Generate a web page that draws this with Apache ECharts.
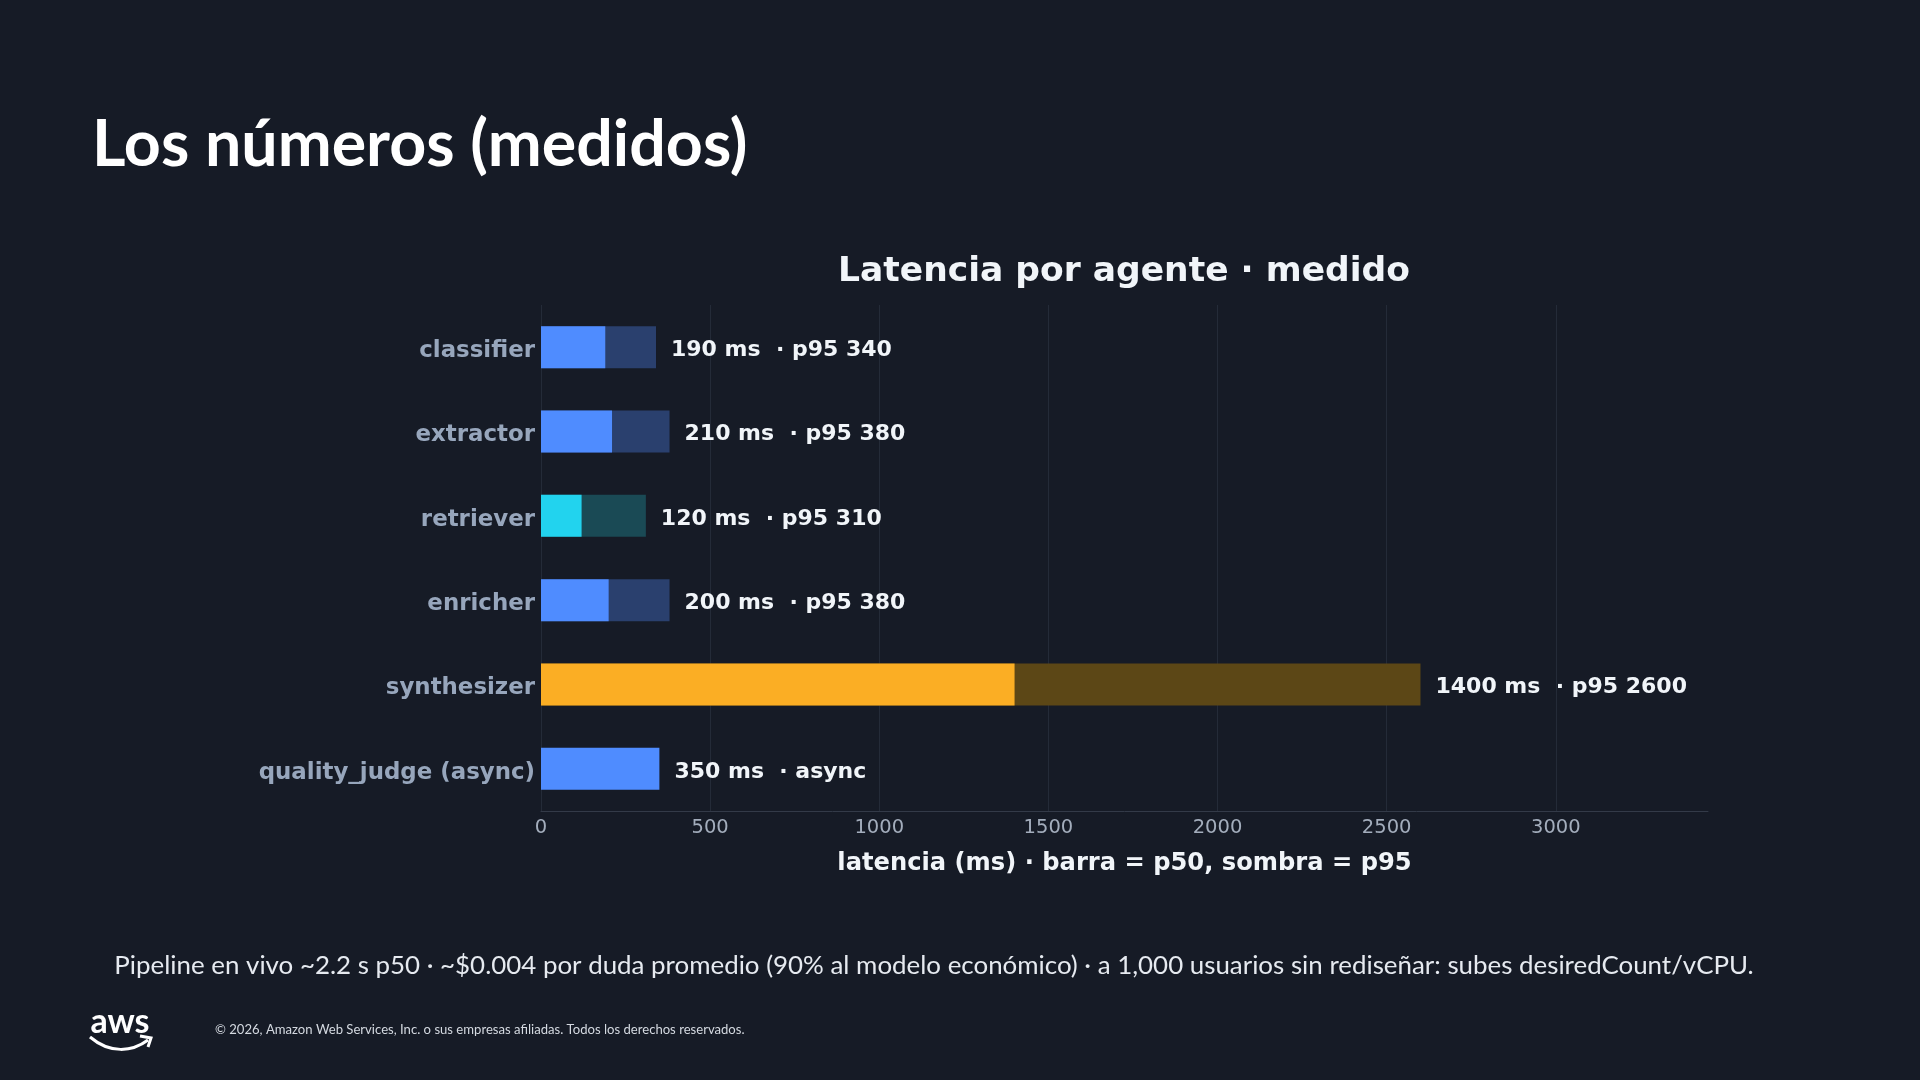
<!DOCTYPE html>
<html>
<head>
<meta charset="utf-8">
<script src="https://cdn.jsdelivr.net/npm/echarts@6/dist/echarts.min.js"></script>
<style>
html,body{margin:0;padding:0;background:#161b26;}
#c{width:1920px;height:1080px;}
</style>
</head>
<body>
<div id="c"></div>
<script>
const categories = ['classifier','extractor','retriever','enricher','synthesizer','quality_judge (async)'];
const p50 = [190, 210, 120, 200, 1400, 350];
const p95 = [340, 380, 310, 380, 2600, null];
const notes = ['p95 340','p95 380','p95 310','p95 380','p95 2600','async'];
const xTicks = { min: 0, max: 3450, interval: 500 };

const mainColors = ['#4f8cff','#4f8cff','#22d3ee','#4f8cff','#fbae24','#4f8cff'];
const shadowColors = ['#2a406e','#2a406e','#1a4a55','#2a406e','#5c4716','#2a406e'];

const chartFont = 'DejaVu Sans';
const slideFont = 'Lato';

function fitSize(text, weight, family, target){
  const cv = document.createElement('canvas').getContext('2d');
  cv.font = weight + ' 100px "' + family + '"';
  return 100 * target / cv.measureText(text).width;
}

const titleText = 'Los números (medidos)';
const footText = 'Pipeline en vivo ~2.2 s p50 · ~$0.004 por duda promedio (90% al modelo económico) · a 1,000 usuarios sin rediseñar: subes desiredCount/vCPU.';
const copyText = '© 2026, Amazon Web Services, Inc. o sus empresas afiliadas. Todos los derechos reservados.';

const labelStyle = {
  show: true, position: 'right', distance: 15, offset: [0, 3],
  color: '#f1f5f9', fontFamily: chartFont, fontWeight: 'bold', fontSize: 22
};

const shadowData = p95.map((v, i) => v == null ? null : ({
  value: v,
  itemStyle: { color: shadowColors[i] },
  label: Object.assign({}, labelStyle, { formatter: p50[i] + ' ms  · ' + notes[i] })
}));
const mainData = p50.map((v, i) => ({
  value: v,
  itemStyle: { color: mainColors[i] },
  label: p95[i] == null ? Object.assign({}, labelStyle, { formatter: v + ' ms  · ' + notes[i] }) : { show: false }
}));

const chart = echarts.init(document.getElementById('c'), null, { renderer: 'canvas' });
chart.setOption({
  backgroundColor: '#161b26',
  animation: false,
  grid: { left: 541, right: 212, top: 305, bottom: 269, containLabel: false },
  xAxis: {
    type: 'value', min: xTicks.min, max: xTicks.max, interval: xTicks.interval,
    name: 'latencia (ms) · barra = p50, sombra = p95',
    nameLocation: 'middle', nameGap: 41,
    nameTextStyle: { color: '#f1f5f9', fontFamily: chartFont, fontWeight: 'bold', fontSize: 24.2 },
    axisLine: { show: true, lineStyle: { color: '#333a48', width: 1 } },
    axisTick: { show: false },
    axisLabel: { color: '#a3adbc', fontFamily: chartFont, fontSize: 19.5, margin: 7, showMaxLabel: false,
      formatter: v => String(v) },
    splitLine: { show: true, showMaxLine: false, lineStyle: { color: '#242b38', width: 1 } }
  },
  yAxis: {
    type: 'category', data: categories, inverse: true,
    axisLine: { show: false }, axisTick: { show: false },
    axisLabel: { margin: 6, formatter: v => '{a|' + v + '}',
      rich: { a: { color: '#97a6bc', fontFamily: chartFont, fontWeight: 'bold', fontSize: 22.9,
        padding: [8, 0, 0, 0] } } }
  },
  series: [
    { name: 'p95', type: 'bar', data: shadowData, barWidth: 42, barGap: '-100%', z: 1 },
    { name: 'p50', type: 'bar', data: mainData, barWidth: 42, barGap: '-100%', z: 2 }
  ],
  graphic: [
    { type: 'text', x: 92, y: 145, style: { text: titleText, fill: '#ffffff',
      font: 'bold ' + fitSize(titleText, 'bold', slideFont, 656).toFixed(1) + 'px "' + slideFont + '"',
      align: 'left', verticalAlign: 'middle' } },
    { type: 'text', x: 1124, y: 272, style: { text: 'Latencia por agente · medido', fill: '#f1f5f9',
      font: 'bold 34.5px "' + chartFont + '"', align: 'center', verticalAlign: 'middle' } },
    { type: 'text', x: 934, y: 966, style: { text: footText, fill: '#e6eaf0',
      font: fitSize(footText, 'normal', slideFont, 1638).toFixed(1) + 'px "' + slideFont + '"', align: 'center', verticalAlign: 'middle' } },
    { type: 'text', x: 215, y: 1030, style: { text: copyText, fill: '#d4d9e0',
      font: fitSize(copyText, 'normal', slideFont, 528).toFixed(1) + 'px "' + slideFont + '"', align: 'left', verticalAlign: 'middle' } },
    { type: 'text', x: 120, y: 1022, style: { text: 'aws', fill: '#ffffff',
      font: 'bold 34px "' + slideFont + '"', align: 'center', verticalAlign: 'middle' } },
    { type: 'bezierCurve', shape: { x1: 90, y1: 1037, x2: 148, y2: 1040, cpx1: 110, cpy1: 1054, cpx2: 132, cpy2: 1052 },
      style: { fill: null, stroke: '#ffffff', lineWidth: 3 } },
    { type: 'polyline', shape: { points: [[140, 1036], [151, 1038], [148, 1047]] },
      style: { fill: null, stroke: '#ffffff', lineWidth: 3 } }
  ]
});
</script>
</body>
</html>
